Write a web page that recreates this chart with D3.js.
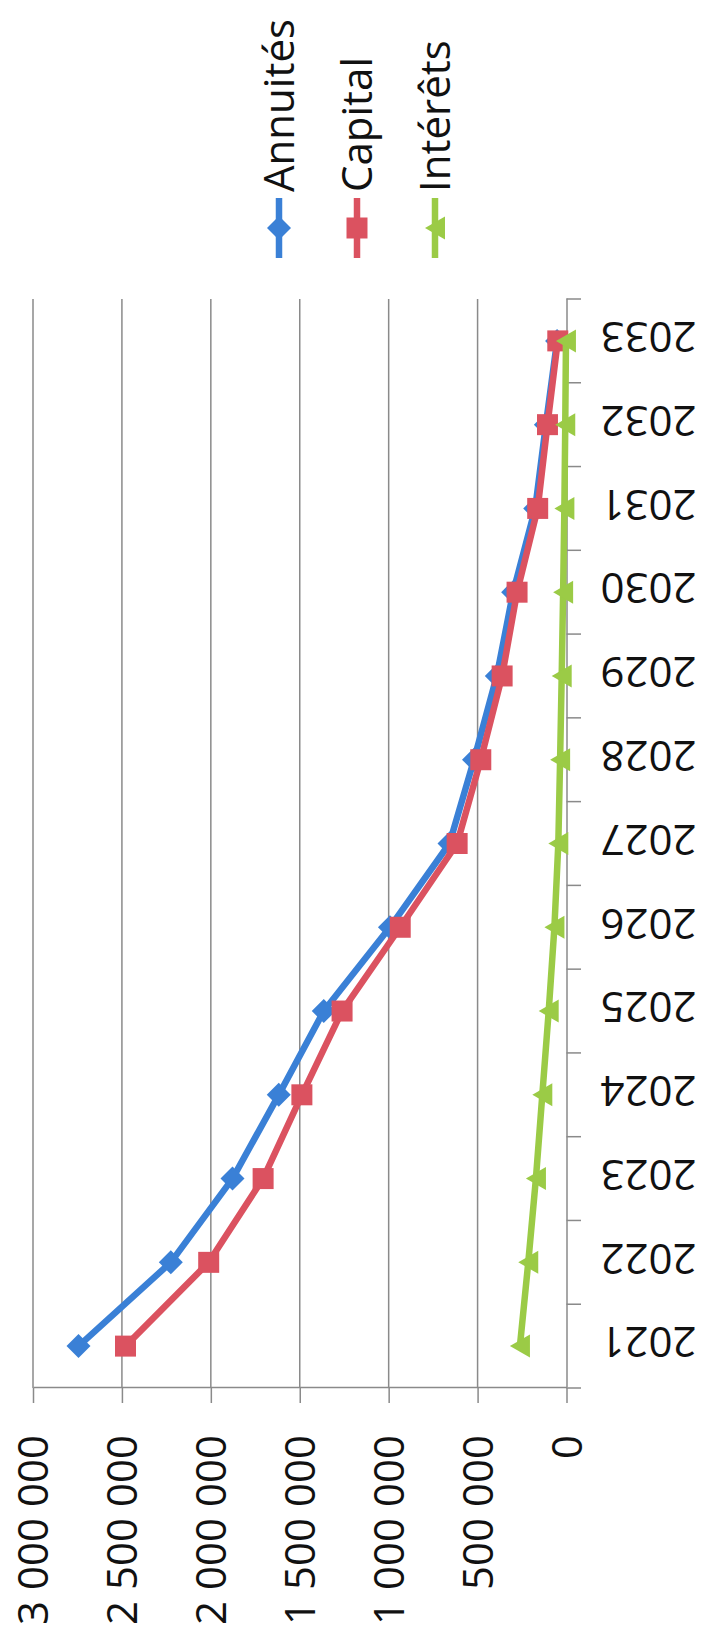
<!DOCTYPE html>
<html>
<head>
<meta charset="utf-8">
<script src="https://cdn.jsdelivr.net/npm/d3@7"></script>
<style>
  html, body { margin: 0; padding: 0; background: #fff; }
  svg { display: block; font-family: "Open Sans", sans-serif; }
</style>
</head>
<body>
<script>
// ---- data ----
const years = ["2021","2022","2023","2024","2025","2026","2027","2028","2029","2030","2031","2032","2033"];
const annuites = [2744000, 2225000, 1878000, 1618000, 1365000, 993000, 658000, 520000, 392000, 300000, 176000, 116000, 53000];
const capital  = [2480000, 2012000, 1706000, 1488000, 1262000, 935000, 615000, 482000, 362000, 278000, 162000, 107000, 49000];
const interets = [262000, 215000, 172000, 136000, 100000, 68000, 46000, 36000, 27000, 19000, 12000, 7000, 3000];
const valueTicks = [0, 500000, 1000000, 1500000, 2000000, 2500000, 3000000];
const valueTickLabels = ["0", "500 000", "1 000 000", "1 500 000", "2 000 000", "2 500 000", "3 000 000"];
const seriesNames = ["Annuités", "Capital", "Intérêts"];
const seriesColors = ["#3a80d6", "#db5260", "#9bcb46"];
const seriesMarkers = ["diamond", "square", "triangle"];

// ---- layout ----
const W = 706, H = 1649;
const svg = d3.select("body").append("svg").attr("width", W).attr("height", H);
svg.append("rect").attr("width", W).attr("height", H).attr("fill", "#fff");

// Chart drawn in an unrotated frame, then turned -90 degrees onto the page.
const g = svg.append("g").attr("transform", `translate(0,${H}) rotate(-90)`);

const x = d3.scaleBand().domain(years).range([261, 1350]);
const y = d3.scaleLinear().domain([0, 3000000]).range([566.5, 33]);
const bw = x.bandwidth();
const gridColor = "#8a8a8a";

// gridlines
g.append("g").selectAll("line").data(valueTicks.filter(t => t > 0)).join("line")
  .attr("x1", 261).attr("x2", 1350)
  .attr("y1", d => y(d)).attr("y2", d => y(d))
  .attr("stroke", gridColor).attr("stroke-width", 1.5);

// value axis
const yAxis = g.append("g").attr("transform", "translate(261,0)")
  .call(d3.axisLeft(y).tickValues(valueTicks)
    .tickFormat((d, i) => valueTickLabels[i])
    .tickSize(15).tickSizeOuter(0).tickPadding(32));
yAxis.selectAll("path, line").attr("stroke", gridColor).attr("stroke-width", 1.5);
yAxis.selectAll("text").attr("font-size", 42).attr("font-family", "Open Sans, sans-serif")
  .attr("fill", "#111").attr("dy", "0.35em");

// category axis
const xAxis = g.append("g").attr("transform", "translate(0,566.5)")
  .call(d3.axisBottom(x).tickSize(0).tickSizeOuter(0));
xAxis.select(".domain").attr("stroke", gridColor).attr("stroke-width", 1.5);
xAxis.selectAll("text")
  .attr("font-size", 42).attr("font-family", "Open Sans, sans-serif").attr("fill", "#111")
  .attr("transform", "rotate(-90)")
  .attr("x", -34).attr("y", 4).attr("dy", "0.35em")
  .attr("text-anchor", "end");
const bounds = years.map(d => x(d)).concat([x(years[years.length - 1]) + bw]);
g.append("g").selectAll("line").data(bounds).join("line")
  .attr("x1", d => d).attr("x2", d => d)
  .attr("y1", 566.5).attr("y2", 581)
  .attr("stroke", gridColor).attr("stroke-width", 1.5);

// markers
function markerPath(type) {
  if (type === "diamond") return "M0,-12L12,0L0,12L-12,0Z";
  if (type === "square") return "M-10.5,-10.5H10.5V10.5H-10.5Z";
  return "M0,-10L11.5,10L-11.5,10Z";
}

const allSeries = [annuites, capital, interets];
const line = d3.line().x((d, i) => x(years[i]) + bw / 2).y(d => y(d));

allSeries.forEach((vals, s) => {
  const sg = g.append("g");
  sg.append("path").datum(vals).attr("d", line)
    .attr("fill", "none").attr("stroke", seriesColors[s])
    .attr("stroke-width", 6.5).attr("stroke-linejoin", "round");
  sg.selectAll("path.m").data(vals).join("path").attr("class", "m")
    .attr("d", markerPath(seriesMarkers[s]))
    .attr("transform", (d, i) => `translate(${x(years[i]) + bw / 2},${y(d)})`)
    .attr("fill", seriesColors[s]);
});

// legend
const leg = g.append("g");
seriesNames.forEach((name, i) => {
  const v = 279 + i * 78;
  const it = leg.append("g");
  it.append("line").attr("x1", 1391).attr("x2", 1451).attr("y1", v).attr("y2", v)
    .attr("stroke", seriesColors[i]).attr("stroke-width", 6.5);
  it.append("path").attr("d", markerPath(seriesMarkers[i]))
    .attr("transform", `translate(1421,${v})`).attr("fill", seriesColors[i]);
  it.append("text").attr("x", 1457).attr("y", v).attr("dy", "0.35em")
    .attr("font-size", 42).attr("fill", "#111").text(name);
});
</script>
</body>
</html>
